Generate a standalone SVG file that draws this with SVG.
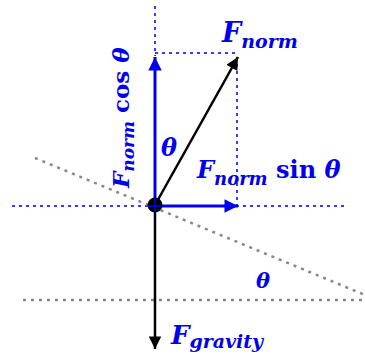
<svg xmlns="http://www.w3.org/2000/svg" width="365" height="354" viewBox="0 0 365 354">
<style>
.lbl{font-family:"DejaVu Serif","Liberation Serif",serif;fill:#0000ee;font-weight:bold}
.it{font-style:italic}
.bd{stroke:#3a3aff;stroke-width:2;stroke-dasharray:3 4;fill:none}
.gd{stroke:#888;stroke-width:2.5;stroke-dasharray:3 5;fill:none}
.blue{stroke:#0000ee;stroke-width:3;fill:none}
.blk{stroke:#000;stroke-width:2.5;fill:none}
</style>
<defs>
<marker id="ab" viewBox="0 0 10 10" refX="10" refY="5" markerWidth="5" markerHeight="4.5" orient="auto" markerUnits="strokeWidth"><path d="M0,0 L10,5 L0,10 z" fill="#0000ee"/></marker>
<marker id="ak" viewBox="0 0 10 10" refX="10" refY="5" markerWidth="6" markerHeight="5" orient="auto" markerUnits="strokeWidth"><path d="M0,0 L10,5 L0,10 z" fill="#000"/></marker>
</defs>
<rect width="365" height="354" fill="#fff"/>
<g id="guides">
<path class="bd" d="M155,6 V56"/>
<path class="bd" d="M155,53 H237"/>
<path class="bd" d="M237,57 V205"/>
<path class="bd" d="M12,206 H345"/>
<path class="gd" d="M35,158 L365,295"/>
<path class="gd" d="M23,300 H365"/>
</g>
<g id="connectors">
<path id="normal" class="blk" d="M155,205 L238,57" marker-end="url(#ak)"/>
<path id="cos" class="blue" d="M155,205 V57" marker-end="url(#ab)"/>
<path id="sin" class="blue" d="M155,206 H238" marker-end="url(#ab)"/>
<path id="gravity" class="blk" d="M155,206 V349" marker-end="url(#ak)"/>
</g>
<g id="origin">
<circle cx="155" cy="205" r="7.5" fill="#000"/>
<path d="M155,198 V212 M148,206 H162" stroke="#0000ee" stroke-width="1.5"/>
</g>
<g id="label-fnorm">
<text class="lbl" x="222" y="42"><tspan class="it" font-size="27">F</tspan><tspan class="it" font-size="19" y="48">norm</tspan></text>
</g>
<g id="label-cos">
<text class="lbl" transform="translate(129,188) rotate(-90)"><tspan class="it" font-size="23">F</tspan><tspan class="it" font-size="17" dy="5">norm</tspan><tspan font-size="23" dy="-5"> cos </tspan><tspan class="it" font-size="23">θ</tspan></text>
</g>
<g id="label-theta1">
<text class="lbl it" x="161" y="156" font-size="24">θ</text>
</g>
<g id="label-sin">
<text class="lbl" x="197" y="178"><tspan class="it" font-size="24">F</tspan><tspan class="it" font-size="18" y="185">norm</tspan><tspan font-size="24" y="178"> sin </tspan><tspan class="it" font-size="24">θ</tspan></text>
</g>
<g id="label-theta2">
<text class="lbl it" x="256" y="288" font-size="21">θ</text>
</g>
<g id="label-fgravity">
<text class="lbl" x="171" y="344"><tspan class="it" font-size="26">F</tspan><tspan class="it" font-size="19" y="348">gravity</tspan></text>
</g>
</svg>
